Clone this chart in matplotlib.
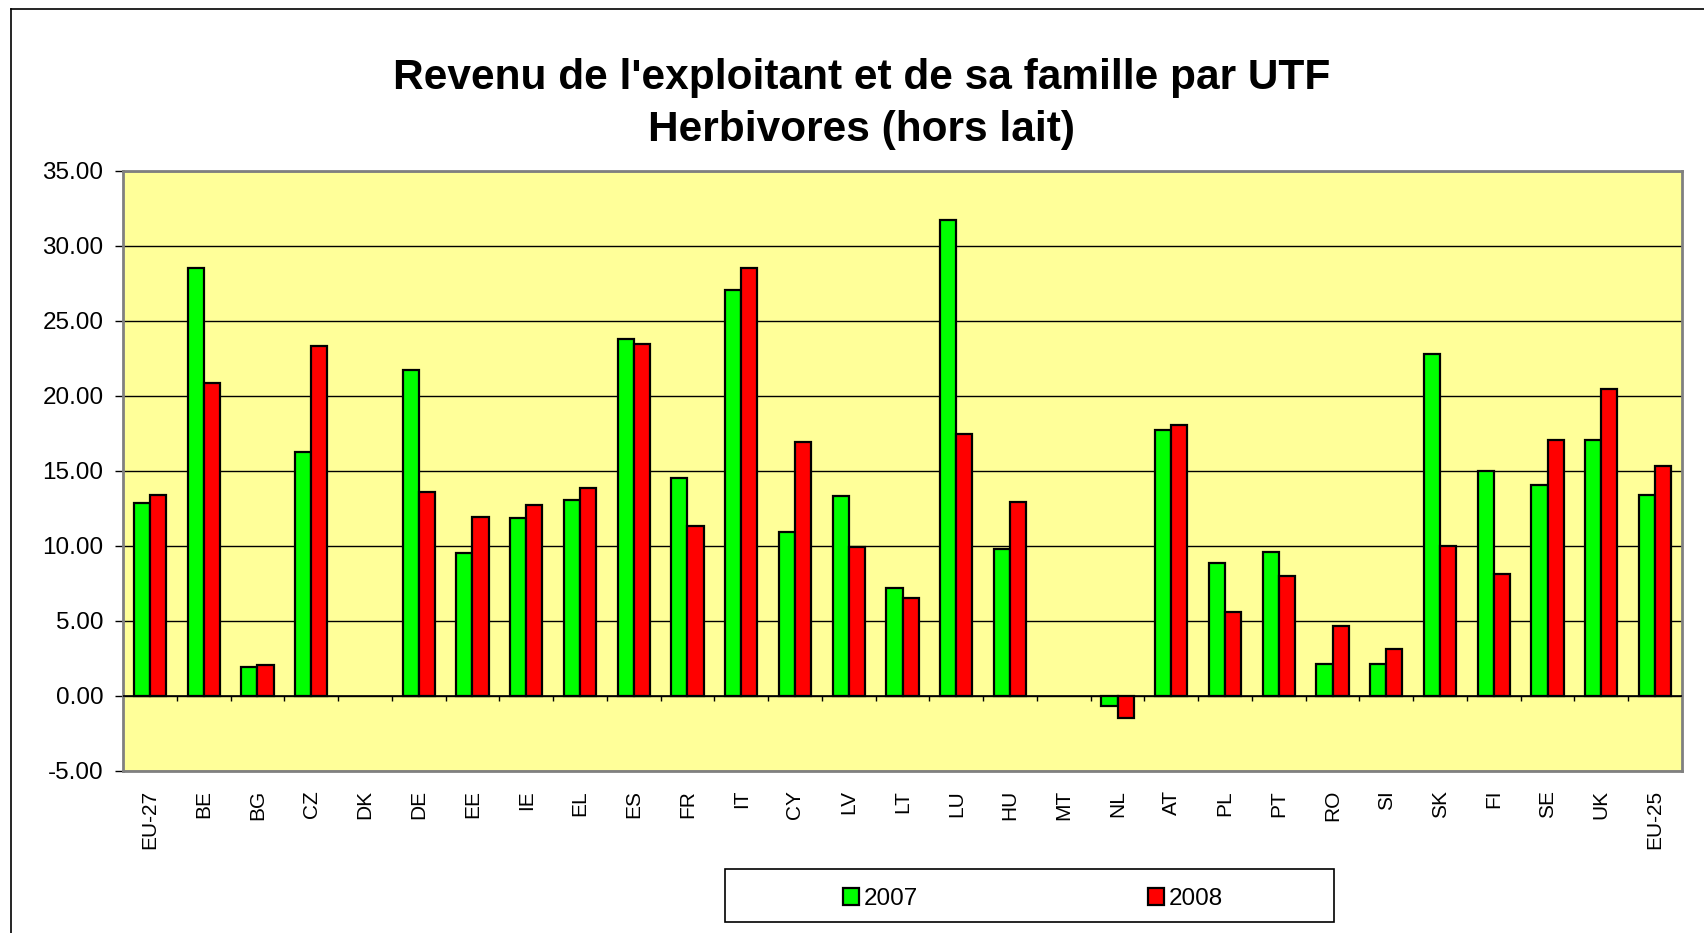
import numpy as np
import matplotlib
matplotlib.use("Agg")
from matplotlib import pyplot as plt
from matplotlib.patches import Patch, Rectangle
from matplotlib.lines import Line2D

plt.rcParams['font.family'] = ['Liberation Sans', 'DejaVu Sans']

countries = ["EU-27", "BE", "BG", "CZ", "DK", "DE", "EE", "IE", "EL", "ES",
             "FR", "IT", "CY", "LV", "LT", "LU", "HU", "MT", "NL", "AT",
             "PL", "PT", "RO", "SI", "SK", "FI", "SE", "UK", "EU-25"]
# DK and MT have no data
val_2007 = [12.85, 28.49, 1.92, 16.24, np.nan, 21.68, 9.53, 11.82, 13.01, 23.79,
            14.50, 27.02, 10.89, 13.30, 7.18, 31.72, 9.77, np.nan, -0.71, 17.69,
            8.86, 9.60, 2.10, 2.10, 22.77, 15.00, 14.05, 17.02, 13.39]
val_2008 = [13.36, 20.81, 2.04, 23.29, np.nan, 13.59, 11.89, 12.68, 13.85, 23.42,
            11.32, 28.52, 16.91, 9.87, 6.51, 17.46, 12.89, np.nan, -1.50, 18.06,
            5.56, 7.95, 4.64, 3.13, 9.97, 8.11, 17.03, 20.43, 15.30]
years = ["2007", "2008"]

x = np.arange(len(countries))
w = 0.3

fig = plt.figure(figsize=(17.04, 9.33), dpi=100)
ax = fig.add_axes([123 / 1704, 1 - 770.5 / 933, (1682 - 123) / 1704, (770.5 - 170.6) / 933])
ax.set_facecolor("#FFFF99")

# gridlines
ax.set_axisbelow(True)
ax.yaxis.grid(True, color="black", linewidth=1.0)

ax.bar(x - w / 2, val_2007, w, color="#00FF00", edgecolor="black", linewidth=1.6, label=years[0], zorder=3)
ax.bar(x + w / 2, val_2008, w, color="#FF0000", edgecolor="black", linewidth=1.6, label=years[1], zorder=3)

ax.axhline(0, color="black", linewidth=1.2, zorder=4)
# small ticks on the zero line between categories
ax.vlines(x[:-1] + 0.5, 0, -0.35, color="black", linewidth=1.0, zorder=4)

ax.set_xlim(-0.5, len(countries) - 0.5)
ax.set_ylim(-5, 35)
ax.set_yticks(np.arange(-5, 36, 5))
ax.set_yticklabels(["%.2f" % v for v in np.arange(-5, 36, 5)], fontsize=17.5)
ax.set_xticks(x)
ax.set_xticklabels(countries, rotation=90, fontsize=15)
ax.tick_params(axis="x", length=0, pad=14)
ax.tick_params(axis="y", length=6, width=1.0, pad=8, color="black")

for s in ax.spines.values():
    s.set_color("#808080")
    s.set_linewidth(2)

fig.text(862 / 1704, 1 - 89 / 933, "Revenu de l'exploitant et de sa famille par UTF",
         ha="center", va="baseline", fontsize=30.5, fontweight="bold")
fig.text(862 / 1704, 1 - 141 / 933, "Herbivores (hors lait)",
         ha="center", va="baseline", fontsize=30.5, fontweight="bold")

# legend box
fig.patches.append(Rectangle((725 / 1704, 1 - 922 / 933), (1334 - 725) / 1704, (922 - 869) / 933,
                             transform=fig.transFigure, facecolor="white", edgecolor="black",
                             linewidth=1.2, zorder=1))
handles = [Patch(facecolor="#00FF00", edgecolor="black", linewidth=1.6),
           Patch(facecolor="#FF0000", edgecolor="black", linewidth=1.6)]
fig.legend(handles, years, loc="center", bbox_to_anchor=(1033 / 1704, 1 - 899 / 933),
           ncol=2, frameon=False, fontsize=17.5, handlelength=0.65, handleheight=0.65,
           handletextpad=0.2, columnspacing=9.45)

# outer chart frame
fig.add_artist(Line2D([11 / 1704, 11 / 1704], [0, 1 - 9 / 933], transform=fig.transFigure, color="black", linewidth=1.2))
fig.add_artist(Line2D([11 / 1704, 1], [1 - 9 / 933, 1 - 9 / 933], transform=fig.transFigure, color="black", linewidth=1.2))

fig.savefig("out.png", dpi=100)
